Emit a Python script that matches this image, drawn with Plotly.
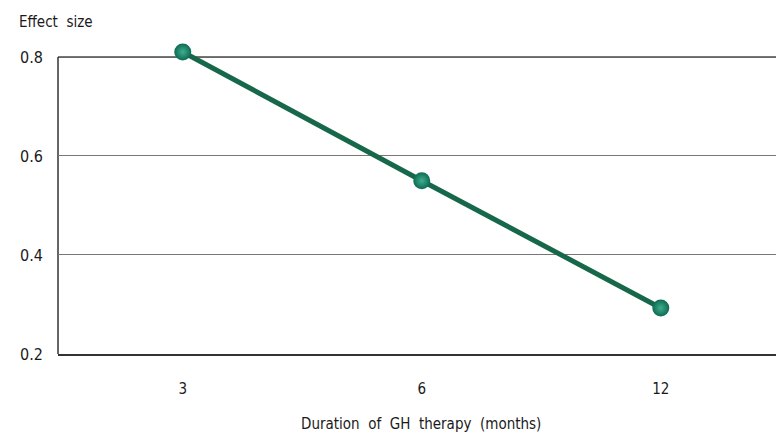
import plotly.graph_objects as go

categories = ["3", "6", "12"]
effect_size = [0.81, 0.55, 0.293]
y_ticks = [0.2, 0.4, 0.6, 0.8]

FONT = "DejaVu Sans Condensed, Roboto Condensed, Arial Narrow, sans-serif"
TXT = "#1a1a1a"

fig = go.Figure()
fig.add_trace(go.Scatter(
    x=categories, y=effect_size, mode="lines+markers",
    line=dict(color="#17684a", width=5),
    marker=dict(size=17, color="#0d6a53",
                gradient=dict(type="radial", color="#3fae8e"),
                line=dict(width=0)),
    cliponaxis=False, showlegend=False,
))

fig.update_layout(
    width=776, height=437,
    margin=dict(l=58, r=0, t=47, b=83),
    paper_bgcolor="white", plot_bgcolor="white",
    font=dict(family=FONT, size=15, color=TXT),
    xaxis=dict(type="category", range=[-0.522, 2.482],
               showline=True, linecolor="#333", linewidth=1.5,
               showgrid=False, ticks="", ticklabelstandoff=20,
               tickfont=dict(family=FONT, size=15, color=TXT)),
    yaxis=dict(range=[0.2, 0.82], tickvals=y_ticks,
               tickformat=".1f",
               showline=False,
               showgrid=True, gridcolor="#777", gridwidth=1,
               zeroline=False, ticks="", ticklabelstandoff=14,
               tickfont=dict(family=FONT, size=16, color=TXT)),
    shapes=[
        dict(type="line", xref="paper", yref="y", x0=0, x1=1, y0=0.8, y1=0.8,
             line=dict(color="#333", width=1.5), layer="below"),
        dict(type="line", xref="paper", yref="y", x0=0, x1=0, y0=0.2, y1=0.8,
             line=dict(color="#333", width=1.5), layer="below"),
    ],
    annotations=[
        dict(text="Effect  size", xref="paper", yref="paper",
             x=-0.057, y=(354 - 22) / 307, xanchor="left", yanchor="middle",
             showarrow=False, font=dict(family=FONT, size=15, color=TXT)),
        dict(text="Duration  of  GH  therapy  (months)", xref="paper", yref="paper",
             x=0.506, y=(354 - 424) / 307, xanchor="center", yanchor="middle",
             showarrow=False, font=dict(family=FONT, size=15, color=TXT)),
    ],
)

fig.write_html("out.html", config={"displayModeBar": False},
               post_script="document.body.style.margin='0';")
